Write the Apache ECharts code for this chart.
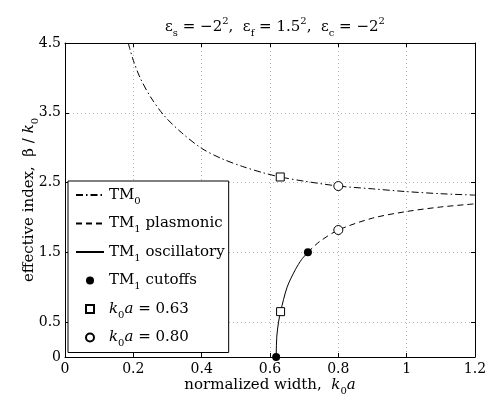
<!DOCTYPE html>
<html>
<head>
<meta charset="utf-8">
<script src="https://cdn.jsdelivr.net/npm/echarts@6/dist/echarts.min.js"></script>
<style>
html,body{margin:0;padding:0;background:#fff;}
#chart{width:487px;height:400px;}
</style>
</head>
<body>
<div id="chart"></div>
<script>
// ---- data ----
const xTicks = [0, 0.2, 0.4, 0.6, 0.8, 1.0, 1.2];
const yTicks = [0, 0.5, 1.5, 2.5, 3.5, 4.5];

const tm0 = [[0.185,4.5],[0.20,4.25],[0.22,4.0],[0.25,3.73],[0.29,3.46],[0.34,3.22],[0.40,2.99],[0.46,2.84],[0.52,2.73],[0.58,2.64],[0.63,2.58],[0.70,2.52],[0.80,2.45],[0.90,2.41],[1.0,2.37],[1.1,2.34],[1.2,2.32]];
const tm1Osc = [[0.618,0],[0.620,0.3],[0.625,0.5],[0.631,0.65],[0.65,1.0],[0.674,1.25],[0.693,1.4],[0.711,1.5]];
const tm1Pl = [[0.711,1.5],[0.744,1.65],[0.80,1.82],[0.90,1.99],[1.0,2.085],[1.1,2.15],[1.2,2.195]];
const cutoffs = [[0.618,0],[0.711,1.5]];
const at063 = [[0.63,2.58],[0.631,0.65]];
const at080 = [[0.80,2.45],[0.80,1.82]];

const names = ['TM0','TM1 plasmonic','TM1 oscillatory','TM1 cutoffs','k0a = 0.63','k0a = 0.80'];
const lineNames = ['TM0','TM1 plasmonic','TM1 oscillatory'];
const legendRich = {
  'TM0': '{n|TM}{s|0}',
  'TM1 plasmonic': '{n|TM}{s|1}{n| plasmonic}',
  'TM1 oscillatory': '{n|TM}{s|1}{n| oscillatory}',
  'TM1 cutoffs': '{n|TM}{s|1}{n| cutoffs}',
  'k0a = 0.63': '{i|k}{s|0}{i|a}{n| = 0.63}',
  'k0a = 0.80': '{i|k}{s|0}{i|a}{n| = 0.80}'
};

const FONT = 'DejaVu Serif';
const richBase = {
  n: {fontFamily: FONT, fontSize: 15, color: '#000', verticalAlign: 'middle'},
  i: {fontFamily: FONT, fontSize: 15, fontStyle: 'italic', color: '#000', verticalAlign: 'middle'},
  s: {fontFamily: FONT, fontSize: 10, color: '#000', verticalAlign: 'bottom'},
  p: {fontFamily: FONT, fontSize: 10, color: '#000', verticalAlign: 'top'}
};

const chart = echarts.init(document.getElementById('chart'), null, {renderer: 'canvas'});

const gridLine = {show: true, lineStyle: {color: '#b4b4b4', type: [1, 3], width: 1}};
const axisLineBlack = {show: true, onZero: false, lineStyle: {color: '#000', width: 1}};

chart.setOption({
  animation: false,
  backgroundColor: '#fff',
  title: {
    text: '{n|ε}{s|s}{n| = −2}{p|2}{n|,  ε}{s|f}{n| = 1.5}{p|2}{n|,  ε}{s|c}{n| = −2}{p|2}',
    left: 270, top: 11, textAlign: 'center',
    textStyle: {fontFamily: FONT, fontSize: 15, fontWeight: 'normal', color: '#000', lineHeight: 22, rich: richBase}
  },
  grid: {left: 65, right: 12, top: 43, bottom: 43, containLabel: false, outerBoundsMode: 'none', show: false},
  legend: {
    orient: 'vertical', left: 68, top: 181,
    data: names.map(n => lineNames.includes(n)
      ? {name: n, itemStyle: {opacity: 0, color: 'rgba(0,0,0,0)', borderColor: 'rgba(0,0,0,0)'}}
      : {name: n}),
    selectedMode: false,
    backgroundColor: '#fff', borderColor: '#000', borderWidth: 1, borderRadius: 0,
    padding: [3, 4, 4, 7],
    itemWidth: 28, itemHeight: 10, itemGap: 6.5,
    formatter: name => legendRich[name],
    textStyle: {fontFamily: FONT, fontSize: 15, color: '#000', lineHeight: 22, rich: richBase}
  },
  xAxis: [{
    type: 'value', min: 0, max: 1.2, interval: 0.2, position: 'bottom',
    name: '{n|normalized width,  }{i|k}{s|0}{i|a}', nameLocation: 'middle', nameGap: 17, nameMoveOverlap: false,
    nameTextStyle: {fontFamily: FONT, fontSize: 15, color: '#000', lineHeight: 22, rich: richBase},
    axisLine: axisLineBlack,
    axisTick: {show: true, inside: true, length: 4, lineStyle: {color: '#000'}},
    axisLabel: {show: true, fontFamily: FONT, fontSize: 14, color: '#000', margin: 5,
      customValues: xTicks, formatter: v => String(+v.toFixed(2))},
    splitLine: gridLine
  }, {
    type: 'value', min: 0, max: 1.2, interval: 0.2, position: 'top',
    axisLine: axisLineBlack,
    axisTick: {show: true, inside: true, length: 4, lineStyle: {color: '#000'}},
    axisLabel: {show: false}, splitLine: {show: false}
  }],
  yAxis: [{
    type: 'value', min: 0, max: 4.5, position: 'left',
    name: '{n|effective index,  β / }{i|k}{s|0}', nameLocation: 'middle', nameGap: 25, nameRotate: 90, nameMoveOverlap: false,
    nameTextStyle: {fontFamily: FONT, fontSize: 15, color: '#000', lineHeight: 22, rich: richBase},
    axisLine: axisLineBlack,
    axisTick: {show: true, inside: true, length: 4, lineStyle: {color: '#000'}, customValues: yTicks},
    axisLabel: {show: true, fontFamily: FONT, fontSize: 14, color: '#000', margin: 4,
      customValues: yTicks, formatter: v => String(v)},
    splitLine: gridLine
  }, {
    type: 'value', min: 0, max: 4.5, position: 'right',
    axisLine: axisLineBlack,
    axisTick: {show: true, inside: true, length: 4, lineStyle: {color: '#000'}, customValues: yTicks},
    axisLabel: {show: false}, splitLine: {show: false}
  }],
  series: [
    {name: 'TM0', type: 'line', data: tm0, smooth: 0.3, symbol: 'none',
      lineStyle: {color: '#000', width: 1, type: [7, 3, 1.5, 3]}, itemStyle: {color: '#000'}},
    {name: 'TM1 plasmonic', type: 'line', data: tm1Pl, smooth: 0.3, symbol: 'none',
      lineStyle: {color: '#000', width: 1, type: [6, 4]}, itemStyle: {color: '#000'}},
    {name: 'TM1 oscillatory', type: 'line', data: tm1Osc, smooth: 0.3, symbol: 'none',
      lineStyle: {color: '#000', width: 1, type: 'solid'}, itemStyle: {color: '#000'}},
    {name: 'TM1 cutoffs', type: 'line', data: cutoffs, symbol: 'circle', symbolSize: 8, clip: false,
      lineStyle: {width: 0, opacity: 0}, itemStyle: {color: '#000', borderColor: '#000', borderWidth: 0}, z: 5},
    {name: 'k0a = 0.63', type: 'line', data: at063, symbol: 'rect', symbolSize: 8, clip: false,
      lineStyle: {width: 0, opacity: 0}, itemStyle: {color: '#fff', borderColor: '#000', borderWidth: 1}, z: 5},
    {name: 'k0a = 0.80', type: 'line', data: at080, symbol: 'circle', symbolSize: 9, clip: false,
      lineStyle: {width: 0, opacity: 0}, itemStyle: {color: '#fff', borderColor: '#000', borderWidth: 1}, z: 5}
  ]
});
</script>
</body>
</html>
